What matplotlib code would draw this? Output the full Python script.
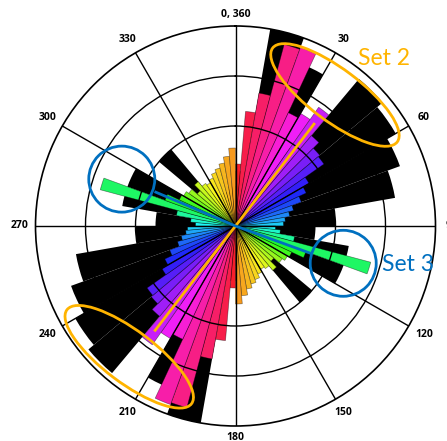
import numpy as np
import matplotlib.pyplot as plt
from matplotlib.patches import Ellipse, Circle
from matplotlib.colors import hsv_to_rgb

# black rose: 10 degree bins over 0-180, mirrored to 180-360
black_edges = np.arange(0, 180, 10)
black_r = [55, 200, 175, 95, 192, 185, 175, 162, 100,
           80, 115, 115, 55, 100, 40, 35, 35, 40]

# coloured rose: 5 degree bins over 0-180, mirrored
color_edges = np.arange(0, 180, 5)
color_r = [62, 115, 135, 188, 190, 125, 130, 145, 118, 110, 108, 85,
           78, 70, 60, 55, 50, 48, 40, 45, 60, 140, 75, 62,
           60, 57, 50, 58, 52, 50, 53, 57, 60, 64, 70, 78]

tick_angles = np.arange(0, 360, 30)
tick_labels = ['0, 360', '30', '60', '90', '120', '150',
               '180', '210', '240', '270', '300', '330']

set2_angle = 37.6
set3_angle = 110.0

ORANGE = '#FFB400'
BLUE = '#0070C0'


def bar_color(deg):
    # hue runs red -> magenta -> blue -> cyan -> green -> yellow -> orange
    pts = [0, 20, 32, 45, 60, 85, 100, 112, 125, 150, 170, 180]
    hues = [1.0, 0.91, 0.83, 0.75, 0.67, 0.55, 0.45, 0.35, 0.25, 0.16, 0.11, 0.09]
    h = np.interp(deg, pts, hues) % 1.0
    return hsv_to_rgb([h, 0.88, 0.97])


fig = plt.figure(figsize=(4.47, 4.41), dpi=100)
ax = fig.add_axes([35.5 / 447, 15 / 441, 400 / 447, 400 / 441], projection='polar')
ax.set_theta_zero_location('N')
ax.set_theta_direction(-1)

# black bars
b_theta = np.concatenate([black_edges, black_edges + 180]) + 5
b_r = np.concatenate([black_r, black_r])
ax.bar(np.deg2rad(b_theta), b_r, width=np.deg2rad(10), color='black',
       edgecolor='none', zorder=1)

# coloured bars
c_theta = np.concatenate([color_edges, color_edges + 180]) + 2.5
c_r = np.concatenate([color_r, color_r])
cols = [bar_color(a % 180) for a in c_theta]
ax.bar(np.deg2rad(c_theta), c_r, width=np.deg2rad(5), color=cols,
       edgecolor=(0, 0, 0, 0.45), linewidth=0.5, zorder=1.5)

ax.set_ylim(0, 200)
ax.set_rgrids([100, 150], labels=[])
ax.set_thetagrids(tick_angles, [''] * len(tick_angles))
ax.set_axisbelow(False)
ax.grid(True, color='black', linewidth=1.0)
ax.spines['polar'].set_linewidth(1.2)

# angle labels just outside the rim
for a, lab in zip(tick_angles, tick_labels):
    t = np.deg2rad(a)
    rr = 205 + 11 * abs(np.sin(t)) + 6 * abs(np.cos(t))
    ax.text(t, rr, lab, ha='center', va='center', fontsize=7.5,
            fontweight='bold', family='Open Sans', clip_on=False)

# set 2 line through centre
t2 = np.deg2rad([set2_angle + 180, 0, set2_angle])
ax.plot(t2, [133, 0, 130], color=ORANGE, lw=2.0, zorder=6, solid_capstyle='butt')
# set 3 line through centre
t3 = np.deg2rad([set3_angle + 183, 0, set3_angle])
ax.plot(t3, [88, 0, 80], color=BLUE, lw=2.0, zorder=6, solid_capstyle='butt')


def to_axes(theta_deg, r):
    t = np.deg2rad(theta_deg)
    return 0.5 + r / 400 * np.sin(t), 0.5 + r / 400 * np.cos(t)


for th, r in [(37.2, 164.5), (219.1, 168.5)]:
    e = Ellipse(to_axes(th, r), width=156 / 400, height=52 / 400, angle=-37,
                transform=ax.transAxes, fill=False, edgecolor=ORANGE,
                linewidth=2.0, zorder=7, clip_on=False)
    ax.add_artist(e)

for th, r in [(292.4, 123.0), (109.1, 114.0)]:
    c = Circle(to_axes(th, r), radius=33 / 400, transform=ax.transAxes,
               fill=False, edgecolor=BLUE, linewidth=2.0, zorder=7, clip_on=False)
    ax.add_artist(c)

ax.text(0.806, 0.9175, 'Set 2', transform=ax.transAxes, color=ORANGE,
        fontsize=16.5, family='Lato', va='center', ha='left', zorder=8)
ax.text(0.866, 0.4025, 'Set 3', transform=ax.transAxes, color=BLUE,
        fontsize=16.5, family='Lato', va='center', ha='left', zorder=8)

fig.savefig('out.png', dpi=100)
